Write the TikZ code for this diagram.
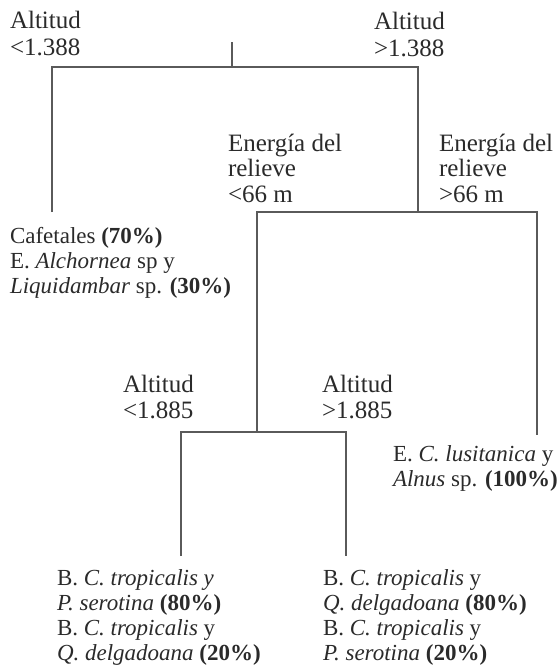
\documentclass[tikz,border=0pt]{standalone}
\usepackage{fontspec}
\setmainfont{Liberation Serif}
\definecolor{linegray}{HTML}{5A5A5A}
\definecolor{textgray}{HTML}{2A2A2A}
\begin{document}
\begin{tikzpicture}[x=1pt,y=-1pt,
  conn/.style={draw=linegray, line width=1.2pt},
  lbl/.style={anchor=base west, inner sep=0pt, outer sep=0pt, align=left, text=textgray, font=\fontsize{23}{25}\selectfont},
  cond/.style={lbl, font=\fontsize{25}{25.5}\selectfont},
  toplbl/.style={lbl, font=\fontsize{25}{27}\selectfont}]
\useasboundingbox (0,0) rectangle (558,670);
% labels (anchor = baseline of the last line)
\node[toplbl] (altL) at (10,55) {Altitud\\<1.388};
\node[toplbl] (altR) at (374,56) {Altitud\\>1.388};
\node[cond] (enL) at (228,202) {Energía del\\relieve\\<66 m};
\node[cond] (enR) at (439,202) {Energía del\\relieve\\>66 m};
\node[lbl] (caf) at (10,293) {Cafetales \textbf{(70\%)}\\E. \textit{Alchornea} sp y\\\textit{Liquidambar} sp. \textbf{(30\%)}};
\node[toplbl, font=\fontsize{25}{26}\selectfont] (a2L) at (123,418) {Altitud\\<1.885};
\node[toplbl, font=\fontsize{25}{26}\selectfont] (a2R) at (322,418) {Altitud\\>1.885};
\node[lbl] (clus) at (393,486) {E. \textit{C. lusitanica} y\\\textit{Alnus} sp. \textbf{(100\%)}};
\node[lbl] (bL) at (57,660) {B. \textit{C. tropicalis y}\\\textit{P. serotina} \textbf{(80\%)}\\B. \textit{C. tropicalis} y\\\textit{Q. delgadoana} \textbf{(20\%)}};
\node[lbl] (bR) at (323,660) {B. \textit{C. tropicalis} y\\\textit{Q. delgadoana} \textbf{(80\%)}\\B. \textit{C. tropicalis} y\\\textit{P. serotina} \textbf{(20\%)}};
% tree coordinates
\coordinate (root) at (232,42);
\coordinate (j1) at (232,67);
\coordinate (l1) at (52,67);
\coordinate (r1) at (418,67);
\coordinate (l1e) at (52,212);
\coordinate (r1e) at (418,212);
\coordinate (l2) at (257,212);
\coordinate (r2) at (537,212);
\coordinate (r2e) at (537,435);
\coordinate (l2e) at (257,432);
\coordinate (l3) at (181,432);
\coordinate (r3) at (346,432);
\coordinate (l3e) at (181,556);
\coordinate (r3e) at (346,556);
% connectors
\draw[conn] (root) -- (j1);
\draw[conn] (l1e) -- (l1) -- (r1) -- (r1e);
\draw[conn] (l2e) -- (l2) -- (r2) -- (r2e);
\draw[conn] (l3e) -- (l3) -- (r3) -- (r3e);
\end{tikzpicture}
\end{document}
